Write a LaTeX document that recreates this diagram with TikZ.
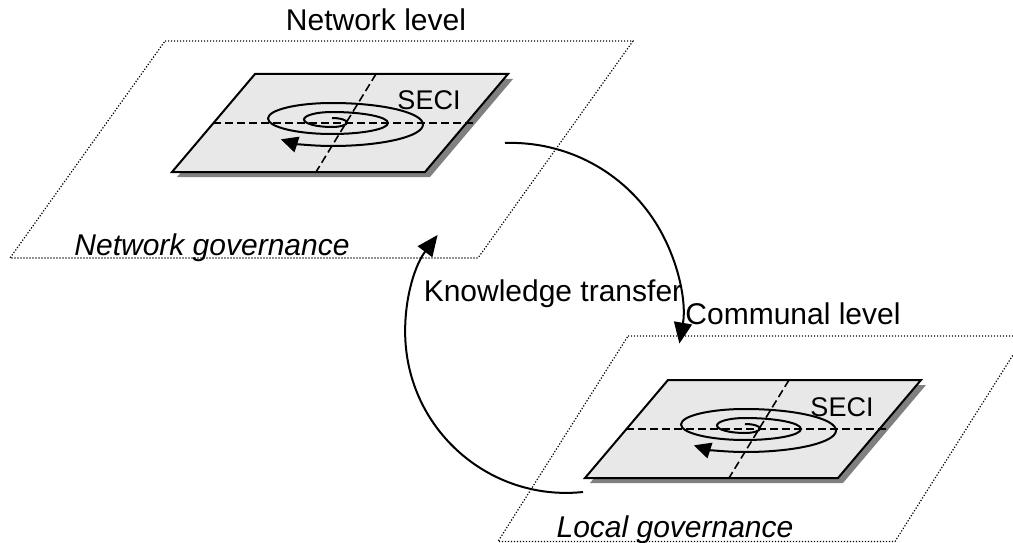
\documentclass[tikz,border=0pt]{standalone}
\usepackage{fontspec}
\setmainfont{Liberation Sans}
\usetikzlibrary{arrows.meta}
\definecolor{platefill}{RGB}{232, 232, 232}
\definecolor{shadowgray}{RGB}{128, 128, 128}

\begin{document}
\begin{tikzpicture}[
        x=1pt, y=-1pt,
        level/.style={font=\fontsize{30}{34}\selectfont, inner sep=0pt, anchor=base},
        gov/.style={level, font=\fontsize{30}{34}\selectfont\itshape},
        seci/.style={font=\fontsize{27}{30}\selectfont, inner sep=0pt, anchor=base},
        layer/.style={draw, line width=1.2pt, dash pattern=on 1.2pt off 1.8pt},
        plate/.style={draw, line width=2pt, fill=platefill},
        axis/.style={line width=1.6pt, dash pattern=on 8pt off 4pt},
        spiral/.style={line width=2pt, -{Triangle[length=17pt,width=16pt]}},
        transfer/.style={line width=2pt, -{Triangle[length=21pt,width=18pt]}},
        seciplate/.pic={
            \fill[shadowgray] (-80,-44) -- (173,-44) -- (90,54) -- (-163,54) -- cycle;
            \draw[plate] (-85,-49) -- (168,-49) -- (85,49) -- (-168,49) -- cycle;
            \draw[axis] (-127,0) -- (133,0);
            \draw[axis] (36,-49) -- (-24,49);
            \draw[spiral] (-8,-5)
                arc[start angle=-90, end angle=90, x radius=15, y radius=4.5]
                arc[start angle=90, end angle=270, x radius=28, y radius=7.5]
                arc[start angle=-90, end angle=90, x radius=56, y radius=11]
                arc[start angle=90, end angle=270, x radius=64, y radius=15.5]
                arc[start angle=-90, end angle=90, x radius=91, y radius=21.5]
                arc[start angle=90, end angle=137, x radius=70, y radius=21];
            \node[seci] (-label) at (89,-13) {SECI};
        }
    ]
        \useasboundingbox (0,0) rectangle (1013,543);

        % Levels
        \draw[layer] (165,41) -- (633,41) -- (478,258) -- (10,258) -- cycle;
        \draw[layer] (628,336) -- (1025,336) -- (895,541.5) -- (498,541.5) -- cycle;

        % SECI plates
        \pic (net) at (340,123) {seciplate};
        \pic (com) at (753,429) {seciplate};

        % Labels
        \node[level] (netlevel) at (376,31) {Network level};
        \node[gov] (netgov) at (212,255) {Network governance};
        \node[level] (transfer) at (553,301) {Knowledge transfer};
        \node[level] (comlevel) at (793,324) {Communal level};
        \node[gov] (locgov) at (675,537) {Local governance};

        % Knowledge transfer
        \coordinate (netout) at (505,143);
        \coordinate (comout) at (583,492);
        \draw[transfer] (netout) arc[start angle=-92, end angle=10, radius=171];
        \draw[transfer] (comout) arc[start angle=84, end angle=217, radius=161];
    \end{tikzpicture}
\end{document}
